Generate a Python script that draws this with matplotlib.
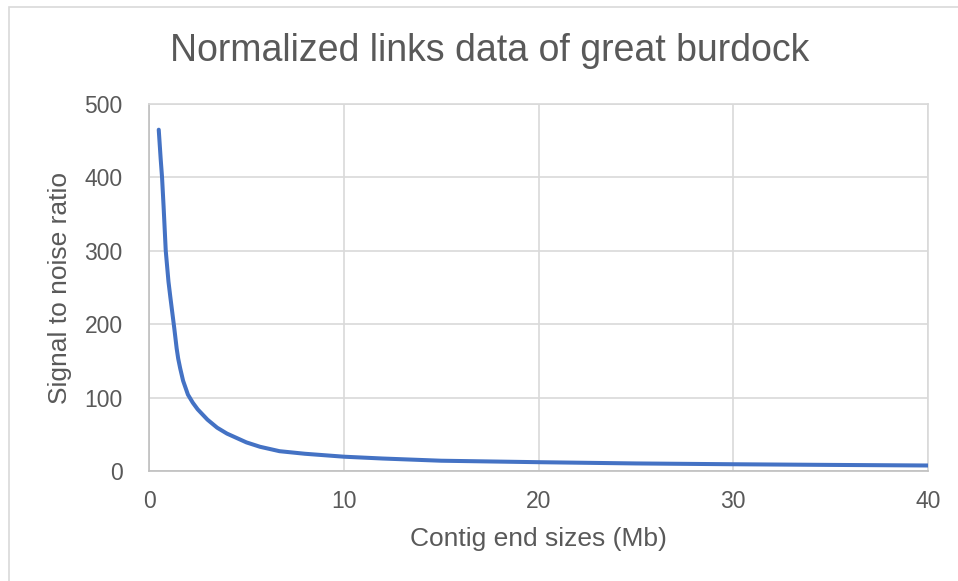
import matplotlib.pyplot as plt
from matplotlib.patches import Rectangle

# values
contig_mb = [0.5, 0.6, 0.67, 0.75, 0.86, 1.0, 1.1, 1.2, 1.3, 1.42, 1.5, 1.6, 1.75, 2.0, 2.25,
             2.5, 3.0, 3.5, 4.0, 5.0, 5.7, 6.7, 8.0, 10, 12, 15, 20, 25, 30, 35, 40]
snr = [465, 425, 400, 360, 300, 258, 236, 215, 194, 167, 153, 140, 123, 104, 93,
       84, 70, 59, 51, 39, 33, 27, 23.5, 19.5, 17, 14, 12, 10.3, 9.2, 8.3, 7.5]

plt.rcParams["font.family"] = ["Liberation Sans", "DejaVu Sans"]
txt = "#595959"

fig = plt.figure(figsize=(9.58, 5.81), dpi=100)
ax = fig.add_axes([149/958, 110/581, 779/958, 367/581])

# light outer chart border
fig.patches.append(Rectangle((9/958, -0.1), 1.2, (581 - 7)/581 + 0.1, transform=fig.transFigure,
                             fill=False, ec="#d9d9d9", lw=1.2))

ax.plot(contig_mb, snr, color="#4472C4", lw=2.9, solid_capstyle="round",
        solid_joinstyle="round", zorder=3)

ax.set_xlim(0, 40)
ax.set_ylim(0, 500)
ax.set_xticks([0, 10, 20, 30, 40])
ax.set_yticks([0, 100, 200, 300, 400, 500])
ax.grid(True, color="#d9d9d9", lw=1.2)
ax.set_axisbelow(True)
for s in ["top", "right"]:
    ax.spines[s].set_color("#d9d9d9")
    ax.spines[s].set_linewidth(1.2)
for s in ["left", "bottom"]:
    ax.spines[s].set_color("#bfbfbf")
    ax.spines[s].set_linewidth(1.2)
ax.tick_params(axis="y", length=0, labelsize=16.5, colors=txt, pad=19)
ax.tick_params(axis="x", length=0, labelsize=16.5, colors=txt, pad=14)

ax.set_xlabel("Contig end sizes (Mb)", fontsize=19, color=txt, labelpad=10)
ax.set_ylabel("Signal to noise ratio", fontsize=19, color=txt, labelpad=9)
fig.text(490/958, 1 - 51/581, "Normalized links data of great burdock", fontsize=27,
         color=txt, ha="center", va="center")

fig.savefig("out.png", dpi=100)
